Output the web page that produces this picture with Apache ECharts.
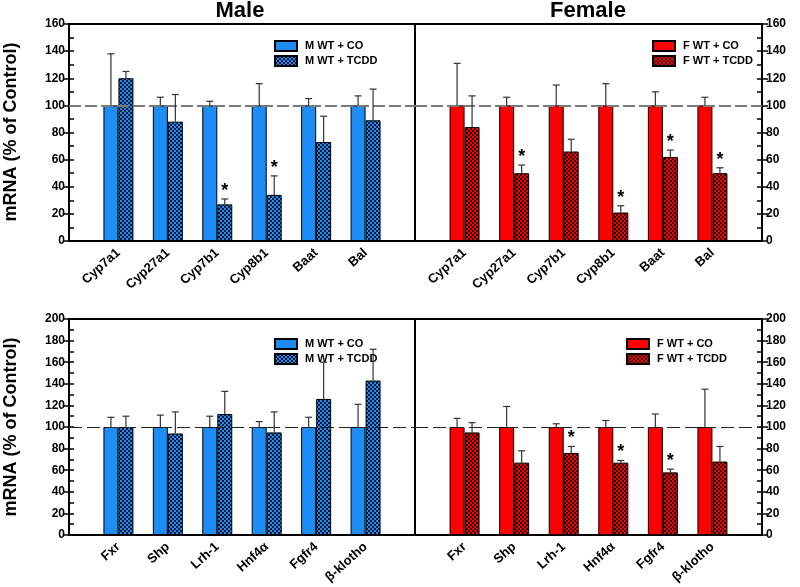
<!DOCTYPE html>
<html>
<head>
<meta charset="utf-8">
<script src="https://cdn.jsdelivr.net/npm/echarts@6/dist/echarts.min.js"></script>
<style>html,body{margin:0;padding:0;background:#fff;}#c{width:800px;height:587px;}</style>
</head>
<body>
<div id="c"></div>
<script>
// ---- data ----
const topCats = ['Cyp7a1','Cyp27a1','Cyp7b1','Cyp8b1','Baat','Bal'];
const bottomCats = ['Fxr','Shp','Lrh-1','Hnf4\u03b1','Fgfr4','\u03b2-klotho'];

const mTopCO = [100,100,100,100,100,100];
const mTopCOErr = [138,106,103,116,105,107];
const mTopTC = [120,88,27,34,73,89];
const mTopTCErr = [125,108,31,48,92,112];
const mTopSig = [0,0,1,1,0,0];

const fTopCO = [100,100,100,100,100,100];
const fTopCOErr = [131,106,115,116,110,106];
const fTopTC = [84,50,66,21,62,50];
const fTopTCErr = [107,56,75,26,67,54];
const fTopSig = [0,1,0,1,1,1];

const mBotCO = [100,100,100,100,100,100];
const mBotCOErr = [109,111,110,105,109,121];
const mBotTC = [100,94,112,95,126,143];
const mBotTCErr = [110,114,133,114,160,172];
const mBotSig = [0,0,0,0,0,0];

const fBotCO = [100,100,100,100,100,100];
const fBotCOErr = [108,119,103,106,112,135];
const fBotTC = [95,67,76,67,58,68];
const fBotTCErr = [104,78,82,69,61,82];
const fBotSig = [0,0,1,1,1,0];

const topMax = 160, bottomMax = 200, refLine = 100;
const maleNames = ['M WT + CO','M WT + TCDD'];
const femaleNames = ['F WT + CO','F WT + TCDD'];
const yTitle = 'mRNA (% of Control)';

// ---- styling ----
const FONT = '"Liberation Sans", Arial, sans-serif';
const BAR_W = 15;
const BLUE = '#1E8CF5', RED = '#FF0000';

function hatch(base, dark) {
  const c = document.createElement('canvas');
  c.width = 4; c.height = 4;
  const g = c.getContext('2d');
  g.fillStyle = dark; g.fillRect(0,0,4,4);
  g.fillStyle = base;
  g.fillRect(0,0,2,2); g.fillRect(2,2,2,2);
  return { image: c, repeat: 'repeat' };
}

const panels = [
  {cats: topCats, co: mTopCO, coErr: mTopCOErr, tc: mTopTC, tcErr: mTopTCErr, sig: mTopSig, max: topMax, names: maleNames, color: BLUE, dark: '#0c1630', right: false,
   grid: {left: 69, top: 24, width: 346, height: 217}, legend: {left: 269, top: 35}, dash: {color:'#7a7a7a', width:2, type:[12,4]}},
  {cats: topCats, co: fTopCO, coErr: fTopCOErr, tc: fTopTC, tcErr: fTopTCErr, sig: fTopSig, max: topMax, names: femaleNames, color: RED, dark: '#2a0000', right: true,
   grid: {left: 415, top: 24, width: 347, height: 217}, legend: {left: 647, top: 35}, dash: {color:'#7a7a7a', width:2, type:[12,4]}},
  {cats: bottomCats, co: mBotCO, coErr: mBotCOErr, tc: mBotTC, tcErr: mBotTCErr, sig: mBotSig, max: bottomMax, names: maleNames, color: BLUE, dark: '#0c1630', right: false,
   grid: {left: 69, top: 319, width: 346, height: 216}, legend: {left: 269, top: 333}, dash: {color:'#222', width:1, type:[13,5]}},
  {cats: bottomCats, co: fBotCO, coErr: fBotCOErr, tc: fBotTC, tcErr: fBotTCErr, sig: fBotSig, max: bottomMax, names: femaleNames, color: RED, dark: '#2a0000', right: true,
   grid: {left: 415, top: 319, width: 347, height: 216}, legend: {left: 621, top: 333}, dash: {color:'#222', width:1, type:[13,5]}}
];

const grids = [], xAxes = [], yAxes = [], series = [], legends = [];
panels.forEach((p, i) => {
  grids.push(Object.assign({show: true, borderColor: '#000', borderWidth: 2, backgroundColor: 'transparent'}, p.grid));
  xAxes.push({
    gridIndex: i, type: 'category', data: [''].concat(p.cats, ['']), boundaryGap: false,
    axisLine: {show: false}, axisTick: {show: false}, splitLine: {show: false},
    axisLabel: {interval: 0, rotate: 42, fontWeight: 'bold', fontSize: 13, color: '#000', margin: 10, fontFamily: FONT}
  });
  const pos = p.right ? 'right' : 'left';
  const yMain = yAxes.length;
  yAxes.push({
    gridIndex: i, type: 'value', position: pos, min: 0, max: p.max, interval: 20,
    axisLine: {show: true, lineStyle: {color: '#000', width: 2}},
    axisTick: {show: true, inside: false, length: 6, lineStyle: {color: '#000', width: 1.5}},
    axisLabel: {show: true, fontWeight: 'bold', fontSize: 12, color: '#000', margin: 4, fontFamily: FONT},
    splitLine: {show: false}
  });
  yAxes.push({
    gridIndex: i, type: 'value', position: pos, min: 0, max: p.max, interval: 10,
    axisLine: {show: false},
    axisTick: {show: true, inside: true, length: 5, lineStyle: {color: '#000', width: 1.5}},
    axisLabel: {show: false}, splitLine: {show: false}
  });
  const pad = v => [null].concat(v, [null]);
  series.push({
    type: 'line', xAxisIndex: i, yAxisIndex: yMain, data: [], z: 1, silent: true,
    markLine: {silent: true, symbol: 'none', label: {show: false}, animation: false,
      lineStyle: p.dash, data: [{yAxis: refLine}]}
  });
  series.push({
    name: p.names[0], type: 'bar', xAxisIndex: i, yAxisIndex: yMain, data: pad(p.co),
    barWidth: BAR_W, barGap: '0%', z: 3,
    itemStyle: {color: p.color, borderColor: '#000', borderWidth: 1}
  });
  series.push({
    name: p.names[1], type: 'bar', xAxisIndex: i, yAxisIndex: yMain, data: pad(p.tc),
    barWidth: BAR_W, barGap: '0%', z: 3,
    itemStyle: {color: hatch(p.color, p.dark), borderColor: '#000', borderWidth: 1}
  });
  const errData = [];
  p.cats.forEach((c, k) => {
    errData.push([k + 1, p.co[k], p.coErr[k], -1, 0]);
    errData.push([k + 1, p.tc[k], p.tcErr[k], 1, p.sig[k]]);
  });
  series.push({
    type: 'custom', xAxisIndex: i, yAxisIndex: yMain, data: errData, z: 5, silent: true,
    encode: {x: 0, y: [1, 2]},
    renderItem: function (params, api) {
      const xi = api.value(0);
      const b = api.coord([xi, api.value(1)]);
      const t = api.coord([xi, api.value(2)]);
      const x = b[0] + api.value(3) * BAR_W / 2;
      const children = [
        {type: 'line', shape: {x1: x, y1: b[1], x2: x, y2: t[1]}, style: {stroke: '#333', lineWidth: 1.2}},
        {type: 'line', shape: {x1: x - 3.5, y1: t[1], x2: x + 3.5, y2: t[1]}, style: {stroke: '#333', lineWidth: 1.2}}
      ];
      if (api.value(4)) {
        children.push({type: 'text', style: {text: '*', x: x, y: t[1] - 8, align: 'center', verticalAlign: 'middle',
          font: 'bold 18px ' + FONT, fill: '#000'}});
      }
      return {type: 'group', children: children};
    }
  });
  legends.push({
    left: p.legend.left, top: p.legend.top, orient: 'vertical', data: p.names,
    itemWidth: 22, itemHeight: 10, itemGap: 3, icon: 'rect', selectedMode: false,
    textStyle: {fontWeight: 'bold', fontSize: 11, color: '#000', fontFamily: FONT, lineHeight: 10, padding: [0,0,0,3]}
  });
});

const chart = echarts.init(document.getElementById('c'), null, {renderer: 'canvas'});
chart.setOption({
  animation: false,
  grid: grids, xAxis: xAxes, yAxis: yAxes, series: series, legend: legends,
  graphic: [
    {type: 'text', x: 240, y: 11, style: {text: 'Male', font: 'bold 22px ' + FONT, fill: '#000', align: 'center', verticalAlign: 'middle'}},
    {type: 'text', x: 588, y: 11, style: {text: 'Female', font: 'bold 22px ' + FONT, fill: '#000', align: 'center', verticalAlign: 'middle'}},
    {type: 'text', x: 11, y: 132, rotation: Math.PI / 2, style: {text: yTitle, font: 'bold 18px ' + FONT, fill: '#000', align: 'center', verticalAlign: 'middle'}},
    {type: 'text', x: 11, y: 427, rotation: Math.PI / 2, style: {text: yTitle, font: 'bold 18px ' + FONT, fill: '#000', align: 'center', verticalAlign: 'middle'}}
  ]
});
</script>
</body>
</html>
